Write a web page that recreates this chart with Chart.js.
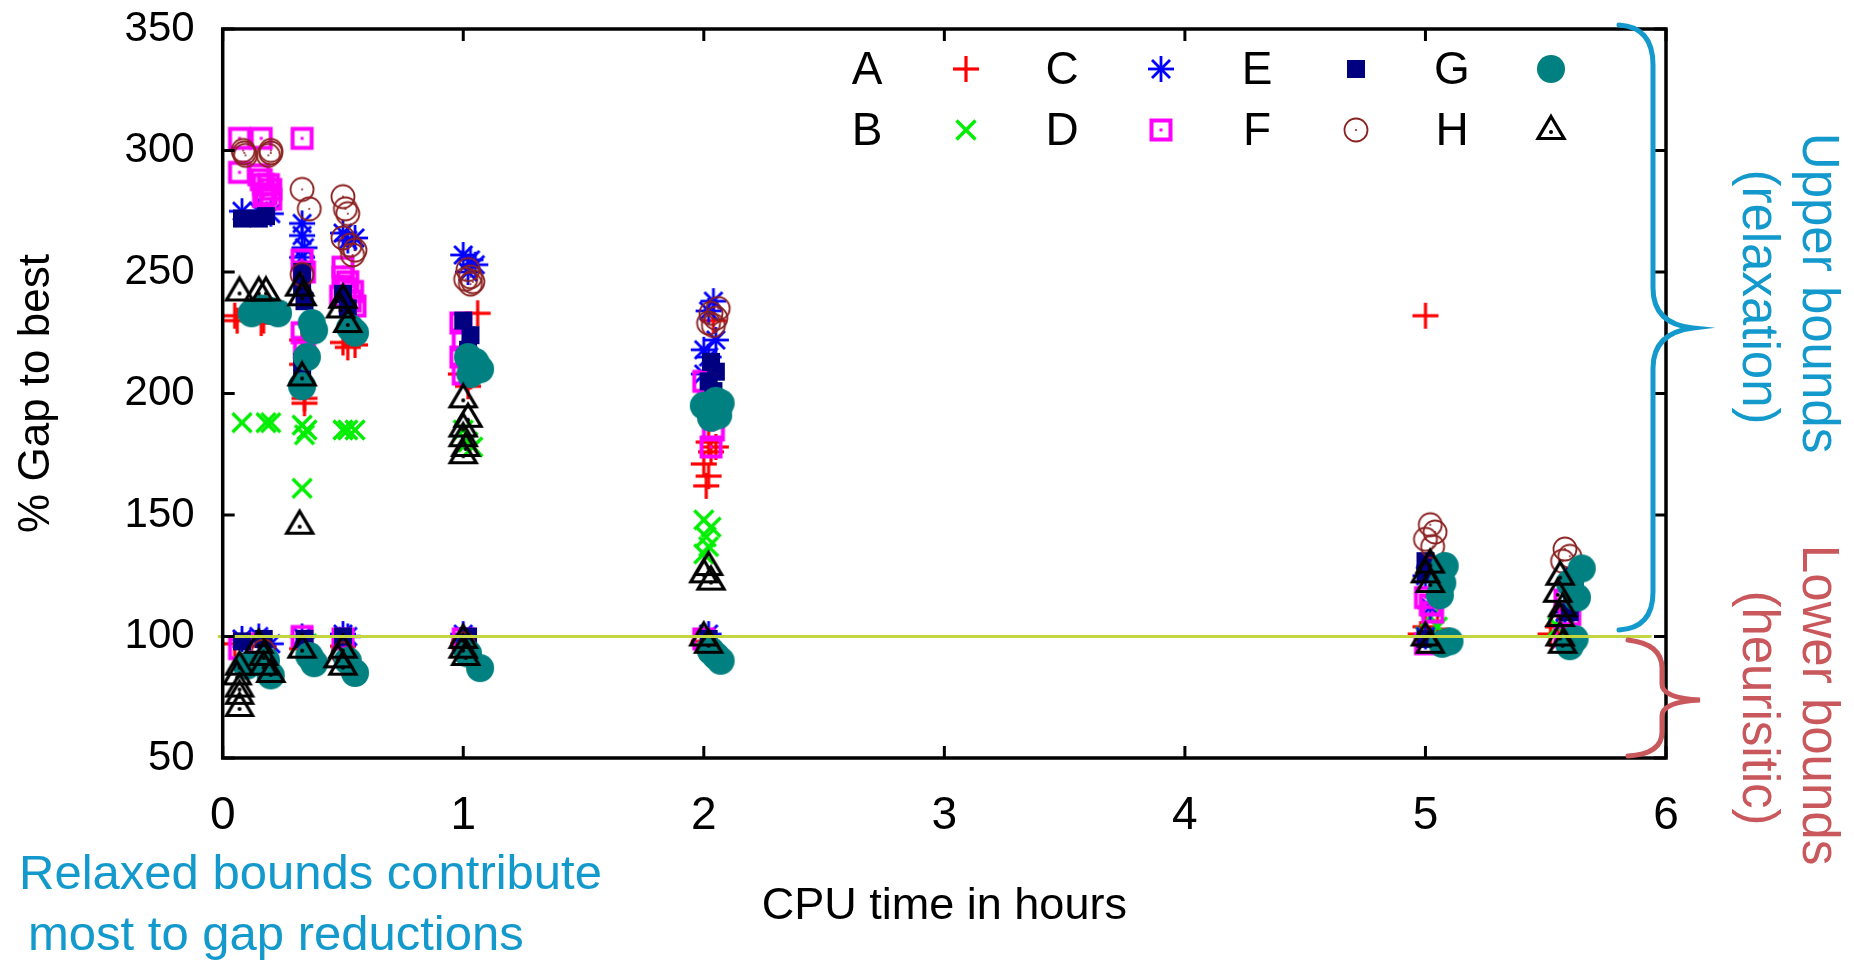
<!DOCTYPE html>
<html><head><meta charset="utf-8">
<script src="https://cdn.jsdelivr.net/npm/chart.js@4.4.1/dist/chart.umd.min.js"></script>
<style>html,body{margin:0;padding:0;background:#fff;overflow:hidden}</style>
</head><body>
<canvas id="c" width="1854" height="963"></canvas>
<script>
// ---------- data ----------
const seriesNames = ['A','B','C','D','E','F','G','H'];
const xTickValues = [0,1,2,3,4,5,6];
const yTickValues = [50,100,150,200,250,300,350];
const refLineY = 100;
const refLineX = [-0.02, 5.94];
const xTitle = 'CPU time in hours';
const yTitle = '% Gap to best';

const A_pts = [[0.05,232],[0.06,230],[0.16,229],[0.17,230],[0.33,222],[0.33,212],[0.34,198],[0.34,196],
  [0.5,221],[0.52,219],[0.55,220],[1.06,233],[0.99,208],[1.02,203],[1.03,207],
  [2.04,230],[2.02,180],[2.05,178],[2.03,176],[2.0,171],[2.02,166],[2.01,162],
  [5.0,232],[5.0,104],[5.05,103],[4.98,101],[5.55,104],[5.6,103],[5.52,101],
  [0.05,97],[0.17,96],[0.33,95],[0.5,96],[1.0,97],[2.0,98]];
const B_pts = [[0.08,188],[0.18,188],[0.2,188],[0.33,187],[0.35,185],[0.34,183],[0.33,161],
  [0.5,185],[0.52,185],[0.55,185],[1.0,185],[1.02,180],[1.04,178],
  [2.0,148],[2.03,145],[2.01,141],[2.02,137],[2.0,134],
  [5.02,108],[5.05,104],[5.55,104],[5.58,102],[0.35,97],[1.0,97],[2.0,99],[5.0,100]];
const C_pts = [[0.08,275],[0.15,275],[0.2,274],[0.33,270],[0.33,265],[0.34,260],[0.33,256],
  [0.5,266],[0.52,263],[0.55,264],[1.0,257],[1.03,255],[1.05,253],[1.02,250],
  [2.04,238],[2.02,234],[2.05,222],[2.0,218],[2.02,215],[2.0,208],
  [5.0,125],[5.02,112],[5.58,110],
  [0.08,99],[0.15,100],[0.2,97],[0.33,100],[0.5,101],[0.52,100],[1.0,101],[2.02,101],[5.0,100]];
const D_pts = [[0.07,305],[0.16,305],[0.33,305],[0.07,291],[0.15,290],[0.17,286],[0.18,282],[0.2,284],
  [0.16,288],[0.19,286],[0.17,281],[0.2,280],
  [0.33,255],[0.34,250],[0.33,225],[0.34,219],[0.5,252],[0.52,246],[0.49,240],[0.55,236],
  [0.5,248],[0.51,243],[0.53,238],[0.54,242],
  [0.99,229],[1.0,222],[0.99,215],[1.0,208],[2.0,205],[2.02,196],[2.04,185],[2.03,178],
  [5.0,116],[5.03,110],[5.02,113],[5.58,115],[5.6,109],
  [0.07,95],[0.15,97],[0.33,100],[0.5,99],[1.0,99],[2.0,99],[5.0,97],[5.58,100]];
const E_pts = [[0.08,272],[0.15,272],[0.18,273],[0.33,250],[0.33,244],[0.34,238],[0.33,213],[0.33,206],
  [0.5,241],[0.52,235],[1.0,230],[1.03,224],[1.02,218],[2.03,213],[2.05,209],[2.02,205],[2.04,201],
  [5.0,131],[5.0,126],[5.62,125],[5.62,118],[5.6,110],
  [0.08,98],[0.17,99],[0.34,99],[0.5,100],[1.02,100],[2.02,99],[5.0,99],[5.6,99]];
const F_pts = [[0.09,299],[0.2,299],[0.085,300],[0.2,300],[0.095,298],[0.19,298],
  [0.33,284],[0.36,276],[0.33,249],[0.5,281],[0.51,276],[0.52,274],
  [0.5,264],[0.53,261],[0.55,259],[0.54,257],[1.02,251],[1.03,248],[1.04,246],[1.01,247],[1.03,245],
  [2.03,233],[2.05,231],[2.02,229],[2.04,228],[2.06,235],
  [5.02,146],[5.04,143],[5.0,140],[5.03,137],[5.58,136],[5.6,133],[5.57,131],
  [0.5,93],[1.0,97],[0.17,94]];
const G_pts = [[0.12,233],[0.16,235],[0.2,234],[0.23,233],[0.37,229],[0.38,226],[0.35,215],[0.33,203],
  [0.53,227],[0.55,225],[1.02,215],[1.05,213],[1.07,210],[1.03,208],
  [2.0,195],[2.05,197],[2.07,196],[2.03,190],[2.06,191],
  [5.08,129],[5.07,122],[5.06,117],[5.65,128],[5.6,122],[5.63,116],
  [0.1,88],[0.2,84],[0.18,90],[0.36,92],[0.38,89],[0.52,90],[0.55,85],[1.02,93],[1.07,87],
  [2.03,94],[2.05,92],[2.07,90],[5.07,97],[5.1,98],[5.62,99],[5.6,96]];
const H_pts = [[0.07,242],[0.15,242],[0.18,242],[0.32,244],[0.33,240],[0.33,207],[0.32,146],
  [0.5,239],[0.49,235],[0.52,229],[1.0,198],[1.02,190],[1.0,186],[1.0,182],[1.01,178],[1.0,175],
  [2.02,129],[2.0,126],[2.03,123],[5.02,130],[5.0,126],[5.02,122],
  [5.56,125],[5.55,118],[5.57,112],[5.56,108],
  [0.07,88],[0.06,84],[0.07,79],[0.07,76],[0.07,71],[0.15,97],[0.17,92],[0.17,88],[0.2,85],
  [0.33,95],[0.5,95],[0.48,91],[0.5,88],[1.0,99],[1.0,95],[1.01,92],
  [2.0,100],[2.02,97],[5.0,100],[5.02,97],[5.56,100],[5.57,97]];
const seriesPoints = [A_pts,B_pts,C_pts,D_pts,E_pts,F_pts,G_pts,H_pts];

// ---------- marker images ----------
function mk(size, fn){const c=document.createElement('canvas');c.width=c.height=size;const g=c.getContext('2d');g.translate(size/2,size/2);g.lineCap='butt';fn(g);return c;}
function line(g,a,b,c,d){g.beginPath();g.moveTo(a,b);g.lineTo(c,d);g.stroke();}
const markers = [
  mk(30,g=>{g.strokeStyle='#ff0000';g.lineWidth=3.2;line(g,-13,0,13,0);line(g,0,-13,0,13);}),
  mk(26,g=>{g.strokeStyle='#00ee00';g.lineWidth=3.4;line(g,-9.5,-9.5,9.5,9.5);line(g,-9.5,9.5,9.5,-9.5);}),
  mk(30,g=>{g.strokeStyle='#0000ff';g.lineWidth=2.8;line(g,0,-13,0,13);line(g,-13,0,13,0);line(g,-9,-9,9,9);line(g,-9,9,9,-9);}),
  mk(28,g=>{g.strokeStyle='#ff00ff';g.fillStyle='#ff00ff';g.lineWidth=4;g.strokeRect(-9.5,-9.5,19,19);g.fillRect(-1.5,-1.5,3,3);}),
  mk(22,g=>{g.fillStyle='#000080';g.fillRect(-9,-9,18,18);}),
  mk(30,g=>{g.strokeStyle='#8b2020';g.fillStyle='#8b2020';g.lineWidth=1.8;g.beginPath();g.arc(0,0,11.5,0,Math.PI*2);g.stroke();g.beginPath();g.arc(0,0,1,0,Math.PI*2);g.fill();}),
  mk(32,g=>{g.fillStyle='#008080';g.beginPath();g.arc(0,0,14,0,Math.PI*2);g.fill();}),
  mk(34,g=>{g.strokeStyle='#000';g.fillStyle='#000';g.lineWidth=3.2;g.lineJoin='miter';g.beginPath();g.moveTo(0,-13.5);g.lineTo(13,8.5);g.lineTo(-13,8.5);g.closePath();g.stroke();g.beginPath();g.arc(0,2,2,0,Math.PI*2);g.fill();})
];

const datasets = seriesNames.map((n,i)=>({
  label:n,
  data: seriesPoints[i].map(p=>({x:p[0],y:p[1]})),
  pointStyle: markers[i],
  pointRadius: 13,
  showLine:false,
  order: 10 - i
}));
datasets.push({
  type:'line', label:'ref',
  data: refLineX.map(x=>({x:x,y:refLineY})),
  borderColor:'#c3d540', borderWidth:3, pointRadius:0, showLine:true, order:0, clip:false
});

const BLUE='#1399cc', RED='#c8585c';
const SANS="'Liberation Sans',Arial,sans-serif";

const overlay = {
  id:'overlay',
  beforeDraw(chart){const g=chart.ctx;g.save();g.fillStyle='#fff';g.fillRect(0,0,chart.width,chart.height);g.restore();},
  afterDatasetsDraw(chart){
    const g=chart.ctx, a=chart.chartArea, xs=chart.scales.x, ys=chart.scales.y;
    g.save();g.strokeStyle='#000';g.lineWidth=3.5;
    g.strokeRect(a.left,a.top,a.right-a.left,a.bottom-a.top);
    g.lineWidth=3;
    xTickValues.forEach(v=>{const p=xs.getPixelForValue(v);line(g,p,a.bottom,p,a.bottom-12);line(g,p,a.top,p,a.top+12);});
    yTickValues.forEach(v=>{const p=ys.getPixelForValue(v);line(g,a.left,p,a.left+12,p);line(g,a.right,p,a.right-12,p);});
    g.restore();
  },
  afterDraw(chart){
    const g=chart.ctx;
    g.save();
    // key
    const colText=[867,1062,1257,1452], colMark=[966,1161,1356,1551], rowY=[69,130];
    g.fillStyle='#000';g.font='46px '+SANS;g.textAlign='center';g.textBaseline='middle';
    chart.data.datasets.slice(0,8).forEach((d,i)=>{
      const c=Math.floor(i/2), r=i%2;
      g.fillText(d.label,colText[c],rowY[r]+2);
      const m=d.pointStyle; g.drawImage(m,colMark[c]-m.width/2,rowY[r]-m.height/2);
    });
    // braces
    g.lineWidth=5;g.lineCap='round';g.strokeStyle=BLUE;
    g.beginPath();g.moveTo(1619,25);g.quadraticCurveTo(1653,27,1653,65);g.lineTo(1653,288);
    g.quadraticCurveTo(1653,324,1693,328);g.quadraticCurveTo(1653,333,1653,368);g.lineTo(1653,592);
    g.quadraticCurveTo(1653,628,1619,630);g.stroke();
    g.strokeStyle=RED;
    g.beginPath();g.moveTo(1628,640);g.quadraticCurveTo(1662,644,1662,668);g.lineTo(1662,684);
    g.quadraticCurveTo(1662,698,1700,700);g.quadraticCurveTo(1662,702,1662,716);g.lineTo(1662,732);
    g.quadraticCurveTo(1662,754,1628,756);g.stroke();
    // rotated notes
    g.font='51px '+SANS;g.textAlign='center';g.textBaseline='middle';
    const rot=(t,x,y,col)=>{g.save();g.translate(x,y);g.rotate(Math.PI/2);g.fillStyle=col;g.fillText(t,0,0);g.restore();};
    rot('Upper bounds',1817,293,BLUE);
    rot('(relaxation)',1757,297,BLUE);
    rot('Lower bounds',1817,705,RED);
    rot('(heurisitic)',1757,708,RED);
    // bottom-left note
    g.fillStyle=BLUE;g.font='49px '+SANS;g.textAlign='left';g.textBaseline='alphabetic';
    g.fillText('Relaxed bounds contribute',19,889);
    g.fillText('most to gap reductions',28,950);
    g.restore();
  }
};

new Chart(document.getElementById('c'),{
  type:'scatter',
  data:{datasets},
  plugins:[overlay],
  options:{
    responsive:false, animation:false, devicePixelRatio:1,
    layout:{padding:{left:10,right:188,top:29,bottom:0}},
    plugins:{legend:{display:false},tooltip:{enabled:false}},
    scales:{
      x:{type:'linear',min:0,max:6,
        afterFit:s=>{s.height=205;s.paddingLeft=0;s.paddingRight=0;},
        afterBuildTicks:s=>{s.ticks=xTickValues.map(v=>({value:v}));},
        grid:{display:false,drawTicks:false},border:{display:false},
        ticks:{color:'#000',font:{family:SANS,size:46},padding:31,maxRotation:0},
        title:{display:true,text:xTitle,color:'#000',font:{family:SANS,size:45},padding:{top:0,bottom:29}}},
      y:{type:'linear',min:50,max:350,
        afterFit:s=>{s.width=212.7;s.paddingTop=0;s.paddingBottom=0;},
        afterBuildTicks:s=>{s.ticks=yTickValues.map(v=>({value:v}));},
        grid:{display:false,drawTicks:false},border:{display:false},
        ticks:{color:'#000',font:{family:SANS,size:42},padding:28},
        title:{display:true,text:yTitle,color:'#000',font:{family:SANS,size:44},padding:0}}
    }
  }
});
</script>
</body></html>
